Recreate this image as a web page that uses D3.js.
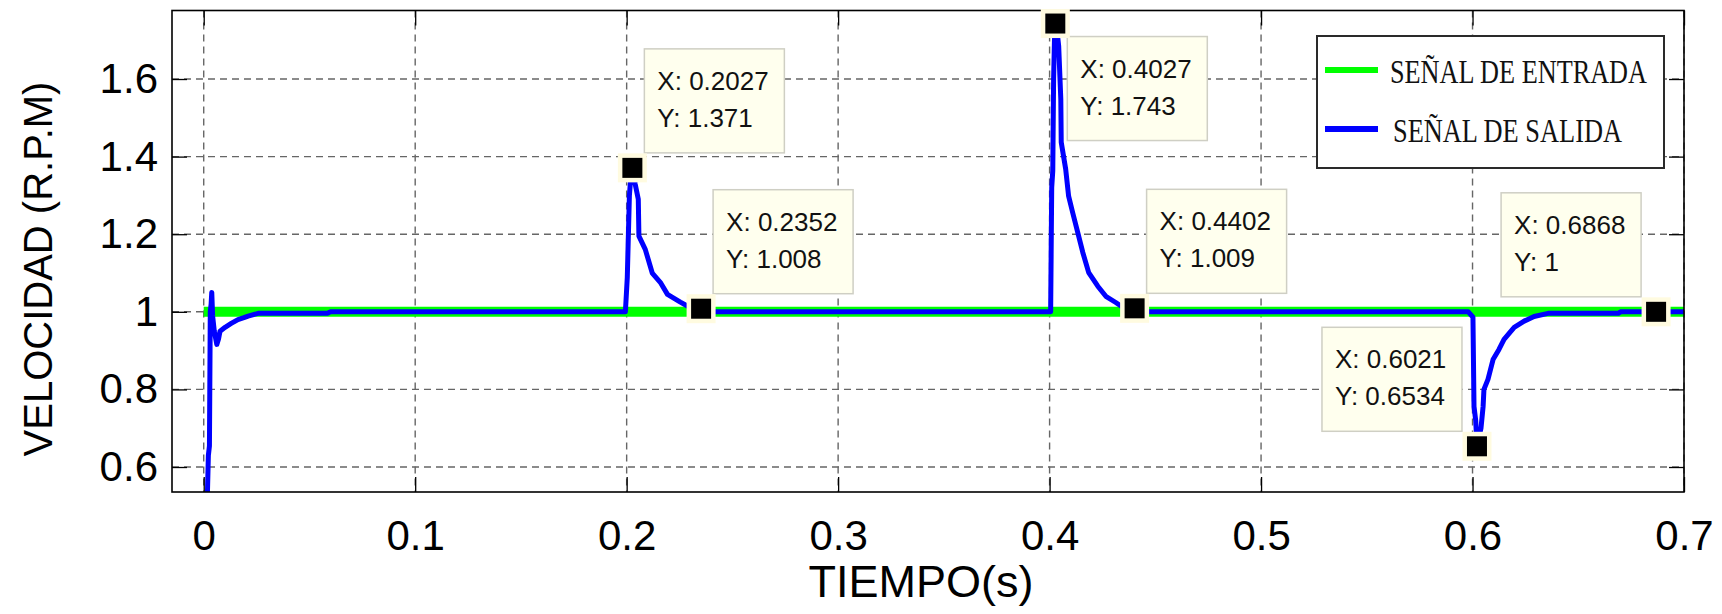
<!DOCTYPE html>
<html>
<head>
<meta charset="utf-8">
<script src="https://cdn.jsdelivr.net/npm/d3@7"></script>
<style>
  body { margin: 0; background: #fff; }
  svg { display: block; }
</style>
</head>
<body>
<div id="chart"></div>
<script>
// input signal (step reference)
var inputT = [0, 0.7];
var inputV = [1, 1];

// output signal
var outputT = [0.0016, 0.0022, 0.0027, 0.0031, 0.0035, 0.0038, 0.0042, 0.0050, 0.0062, 0.0070, 0.0077,
  0.0101, 0.0130, 0.0162, 0.0190, 0.0210, 0.0257, 0.0585, 0.0600,
  0.1994, 0.2003, 0.2013, 0.2020, 0.2027, 0.2040, 0.2055, 0.2058, 0.2088, 0.2121, 0.2159, 0.2193,
  0.2254, 0.2287, 0.2352, 0.2365,
  0.4005, 0.4010, 0.4015, 0.4019, 0.4023, 0.4027, 0.4036, 0.4043, 0.4053, 0.4055, 0.4076, 0.4090,
  0.4109, 0.4133, 0.4157, 0.4185, 0.4228, 0.4266, 0.4313, 0.4337, 0.4402, 0.4415,
  0.5980, 0.6002, 0.6007, 0.6015, 0.6021, 0.6040, 0.6050, 0.6054, 0.6073, 0.6097, 0.6125,
  0.6149, 0.6197, 0.6244, 0.6291, 0.6357, 0.6689, 0.6700, 0.6868, 0.7];
var outputV = [0.50, 0.63, 0.654, 1.00, 1.02, 1.05, 0.99, 0.95, 0.916, 0.93, 0.95,
  0.96, 0.970, 0.980, 0.985, 0.989, 0.996, 0.996, 1.0,
  1.0, 1.089, 1.30, 1.35, 1.371, 1.33, 1.29, 1.195, 1.161, 1.10, 1.076, 1.045,
  1.025, 1.015, 1.008, 1.0,
  1.0, 1.32, 1.363, 1.60, 1.70, 1.743, 1.72, 1.685, 1.548, 1.437, 1.368, 1.298,
  1.256, 1.205, 1.153, 1.101, 1.066, 1.040, 1.024, 1.015, 1.009, 1.0,
  1.0, 0.986, 0.756, 0.72, 0.6534, 0.70, 0.756, 0.80, 0.826, 0.877, 0.903,
  0.929, 0.960, 0.976, 0.988, 0.996, 0.996, 1.0, 1.0, 1.0];

// data tips
var tipX = [0.2027, 0.2352, 0.4027, 0.4402, 0.6021, 0.6868];
var tipY = [1.371, 1.008, 1.743, 1.009, 0.6534, 1];
var tipSide = ["ne", "ne", "se", "ne", "nw", "nw"];

var xTicks = [0, 0.1, 0.2, 0.3, 0.4, 0.5, 0.6, 0.7];
var yTicks = [0.6, 0.8, 1, 1.2, 1.4, 1.6];
var seriesNames = ["SEÑAL DE ENTRADA", "SEÑAL DE SALIDA"];

var W = 1722, H = 614;
var plotLeft = 172, plotRight = 1684, plotTop = 10.5, plotBottom = 492;
var sans = "'Liberation Sans', Arial, Helvetica, sans-serif";
var serif = "'Liberation Serif', 'Times New Roman', serif";

var svg = d3.select("#chart").append("svg")
  .attr("width", W).attr("height", H)
  .style("font-family", sans);

var x = d3.scaleLinear().domain([-0.015, 0.7]).range([plotLeft, plotRight]);
var y = d3.scaleLinear().domain([0.5356, 1.7766]).range([plotBottom, plotTop]);

svg.append("clipPath").attr("id", "clip")
  .append("rect")
  .attr("x", plotLeft).attr("y", plotTop)
  .attr("width", plotRight - plotLeft).attr("height", plotBottom - plotTop);

// grid
var grid = svg.append("g");
grid.selectAll("line.gx").data(xTicks).enter().append("line")
  .attr("x1", d => x(d)).attr("x2", d => x(d))
  .attr("y1", plotTop).attr("y2", plotBottom)
  .attr("stroke", "#666").attr("stroke-width", 1.4)
  .attr("stroke-dasharray", "7,5");
grid.selectAll("line.gy").data(yTicks).enter().append("line")
  .attr("x1", plotLeft).attr("x2", plotRight)
  .attr("y1", d => y(d)).attr("y2", d => y(d))
  .attr("stroke", "#666").attr("stroke-width", 1.4)
  .attr("stroke-dasharray", "7,5");

// axes: ticks inside, labels outside
var xAxis = d3.axisBottom(x).tickValues(xTicks).tickSize(-15).tickPadding(28)
  .tickFormat(d => d3.format("~g")(d));
var xg = svg.append("g").attr("transform", "translate(0," + plotBottom + ")").call(xAxis);
xg.select(".domain").remove();
xg.selectAll("text").attr("font-size", 42).attr("fill", "#000").style("font-family", sans);
xg.selectAll("line").attr("stroke", "#000").attr("stroke-width", 1.3);

var xTop = d3.axisTop(x).tickValues(xTicks).tickSize(-15).tickFormat("");
var xtg = svg.append("g").attr("transform", "translate(0," + plotTop + ")").call(xTop);
xtg.select(".domain").remove();
xtg.selectAll("line").attr("stroke", "#000").attr("stroke-width", 1.3);

var yAxis = d3.axisLeft(y).tickValues(yTicks).tickSize(-15).tickPadding(14)
  .tickFormat(d => d3.format("~g")(d));
var yg = svg.append("g").attr("transform", "translate(" + plotLeft + ",0)").call(yAxis);
yg.select(".domain").remove();
yg.selectAll("text").attr("font-size", 42).attr("fill", "#000").style("font-family", sans);
yg.selectAll("line").attr("stroke", "#000").attr("stroke-width", 1.3);

var yRight = d3.axisRight(y).tickValues(yTicks).tickSize(-15).tickFormat("");
var yrg = svg.append("g").attr("transform", "translate(" + plotRight + ",0)").call(yRight);
yrg.select(".domain").remove();
yrg.selectAll("line").attr("stroke", "#000").attr("stroke-width", 1.3);

// series
var line = d3.line().x(d => x(d[0])).y(d => y(d[1]));
var plot = svg.append("g").attr("clip-path", "url(#clip)");
plot.append("path")
  .datum(d3.zip(inputT, inputV))
  .attr("d", line)
  .attr("fill", "none").attr("stroke", "#00ff00").attr("stroke-width", 10);
plot.append("path")
  .datum(d3.zip(outputT, outputV))
  .attr("d", line)
  .attr("fill", "none").attr("stroke", "#0000ff").attr("stroke-width", 5)
  .attr("stroke-linejoin", "round");

// frame
svg.append("rect")
  .attr("x", plotLeft).attr("y", plotTop)
  .attr("width", plotRight - plotLeft).attr("height", plotBottom - plotTop)
  .attr("fill", "none").attr("stroke", "#000").attr("stroke-width", 1.6);

// data tips
var boxW = 140, boxH = 104;
var tips = svg.append("g");
tipX.forEach(function (tx, i) {
  var px = x(tx), py = y(tipY[i]);
  var side = tipSide[i];
  var bx = side[1] === "e" ? px + 12 : px - 155;
  var by = side[0] === "n" ? py - 119 : py + 13;
  var g = tips.append("g");
  g.append("rect")
    .attr("x", bx).attr("y", by).attr("width", boxW).attr("height", boxH)
    .attr("fill", "#ffffee").attr("stroke", "#cfcfc4").attr("stroke-width", 1.5);
  g.append("text").attr("x", bx + 13).attr("y", by + 41)
    .attr("font-size", 26).attr("fill", "#111")
    .text("X: " + tx);
  g.append("text").attr("x", bx + 13).attr("y", by + 78)
    .attr("font-size", 26).attr("fill", "#111")
    .text("Y: " + tipY[i]);
  g.append("rect")
    .attr("x", px - 14.5).attr("y", py - 14.5).attr("width", 29).attr("height", 29)
    .attr("fill", "#fffbe0");
  g.append("rect")
    .attr("x", px - 10).attr("y", py - 10).attr("width", 20).attr("height", 20)
    .attr("fill", "#000");
});

// legend
var lg = svg.append("g");
lg.append("rect")
  .attr("x", 1317).attr("y", 36).attr("width", 347).attr("height", 132)
  .attr("fill", "#fff").attr("stroke", "#2a2a2a").attr("stroke-width", 2);
var legendColors = ["#00ff00", "#0000ff"];
var legendWidths = [257, 229];
seriesNames.forEach(function (name, i) {
  var ly = 70 + i * 59;
  lg.append("line")
    .attr("x1", 1325).attr("x2", 1378).attr("y1", ly).attr("y2", ly)
    .attr("stroke", legendColors[i]).attr("stroke-width", 6);
  lg.append("text")
    .attr("x", 1390 + i * 3).attr("y", ly + 13)
    .style("font-family", serif)
    .attr("font-size", 34).attr("fill", "#111")
    .attr("textLength", legendWidths[i]).attr("lengthAdjust", "spacingAndGlyphs")
    .text(name);
});

// axis titles
svg.append("text")
  .attr("x", 921).attr("y", 597)
  .attr("text-anchor", "middle").attr("font-size", 45).attr("fill", "#000")
  .text("TIEMPO(s)");
svg.append("text")
  .attr("transform", "translate(52,269) rotate(-90)")
  .attr("text-anchor", "middle").attr("font-size", 40).attr("fill", "#000")
  .text("VELOCIDAD (R.P.M)");
</script>
</body>
</html>
